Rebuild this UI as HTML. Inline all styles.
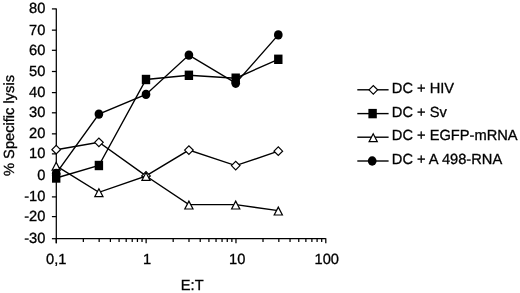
<!DOCTYPE html><html><head><meta charset="utf-8"><title>chart</title><style>html,body{margin:0;padding:0;background:#fff}svg{display:block}</style></head><body><svg width="520" height="293" viewBox="0 0 520 293">
<rect width="520" height="293" fill="#fff"/>
<g stroke="#000" stroke-width="1.25" fill="none">
<path d="M56.3 8.4V243.3"/>
<path d="M55.8 238.7H325.8"/>
<path d="M51.9 8.90H56.3"/>
<path d="M51.9 30.15H56.3"/>
<path d="M51.9 50.30H56.3"/>
<path d="M51.9 71.50H56.3"/>
<path d="M51.9 92.60H56.3"/>
<path d="M51.9 112.80H56.3"/>
<path d="M51.9 133.85H56.3"/>
<path d="M51.9 153.85H56.3"/>
<path d="M51.9 175.30H56.3"/>
<path d="M51.9 196.90H56.3"/>
<path d="M51.9 216.60H56.3"/>
<path d="M51.9 238.70H56.3"/>
<path d="M56.30 238.7v4.6"/>
<path d="M83.34 238.7v3.3"/>
<path d="M99.16 238.7v3.3"/>
<path d="M110.39 238.7v3.3"/>
<path d="M119.09 238.7v3.3"/>
<path d="M126.20 238.7v3.3"/>
<path d="M132.22 238.7v3.3"/>
<path d="M137.43 238.7v3.3"/>
<path d="M142.02 238.7v3.3"/>
<path d="M146.13 238.7v4.6"/>
<path d="M173.18 238.7v3.3"/>
<path d="M188.99 238.7v3.3"/>
<path d="M200.22 238.7v3.3"/>
<path d="M208.92 238.7v3.3"/>
<path d="M216.04 238.7v3.3"/>
<path d="M222.05 238.7v3.3"/>
<path d="M227.26 238.7v3.3"/>
<path d="M231.86 238.7v3.3"/>
<path d="M235.97 238.7v4.6"/>
<path d="M263.01 238.7v3.3"/>
<path d="M278.83 238.7v3.3"/>
<path d="M290.05 238.7v3.3"/>
<path d="M298.76 238.7v3.3"/>
<path d="M305.87 238.7v3.3"/>
<path d="M311.88 238.7v3.3"/>
<path d="M317.09 238.7v3.3"/>
<path d="M321.69 238.7v3.3"/>
<path d="M325.8 238.2v5.1"/>
</g>
<g font-family="'Liberation Sans', Arial, sans-serif" font-size="14.67" text-rendering="geometricPrecision" fill="#000" stroke="#000" stroke-width="0.3">
<text x="45.4" y="13.40" text-anchor="end">80</text>
<text x="45.4" y="34.65" text-anchor="end">70</text>
<text x="45.4" y="54.80" text-anchor="end">60</text>
<text x="45.4" y="76.00" text-anchor="end">50</text>
<text x="45.4" y="97.10" text-anchor="end">40</text>
<text x="45.4" y="117.30" text-anchor="end">30</text>
<text x="45.4" y="138.35" text-anchor="end">20</text>
<text x="45.4" y="158.35" text-anchor="end">10</text>
<text x="45.4" y="179.80" text-anchor="end">0</text>
<text x="45.4" y="201.40" text-anchor="end">-10</text>
<text x="45.4" y="221.10" text-anchor="end">-20</text>
<text x="45.4" y="243.20" text-anchor="end">-30</text>
<text x="56.3" y="264.0" text-anchor="middle">0,1</text>
<text x="147.1" y="264.0" text-anchor="middle">1</text>
<text x="237.2" y="264.0" text-anchor="middle">10</text>
<text x="326.8" y="264.0" text-anchor="middle">100</text>
<text x="192.2" y="290" text-anchor="middle">E:T</text>
<text transform="translate(14.1 125.5) rotate(-90)" text-anchor="middle">% Specific lysis</text>
<text x="391.8" y="93.0">DC + HIV</text>
<text x="391.8" y="116.8">DC + Sv</text>
<text x="391.8" y="140.4">DC + EGFP-mRNA</text>
<text x="391.8" y="164.2">DC + A 498-RNA</text>
</g>
<polyline points="56.20,149.70 98.90,142.30 146.00,175.90 188.90,150.10 235.70,165.60 278.30,151.20" fill="none" stroke="#000" stroke-width="1.4"/>
<path d="M51.90 149.70L56.20 145.40L60.50 149.70L56.20 154.00Z" fill="#fff" stroke="#000" stroke-width="1.2"/>
<path d="M94.60 142.30L98.90 138.00L103.20 142.30L98.90 146.60Z" fill="#fff" stroke="#000" stroke-width="1.2"/>
<path d="M141.70 175.90L146.00 171.60L150.30 175.90L146.00 180.20Z" fill="#fff" stroke="#000" stroke-width="1.2"/>
<path d="M184.60 150.10L188.90 145.80L193.20 150.10L188.90 154.40Z" fill="#fff" stroke="#000" stroke-width="1.2"/>
<path d="M231.40 165.60L235.70 161.30L240.00 165.60L235.70 169.90Z" fill="#fff" stroke="#000" stroke-width="1.2"/>
<path d="M274.00 151.20L278.30 146.90L282.60 151.20L278.30 155.50Z" fill="#fff" stroke="#000" stroke-width="1.2"/>
<polyline points="56.20,178.00 98.90,165.50 146.00,79.50 188.90,75.30 235.70,78.20 278.30,59.30" fill="none" stroke="#000" stroke-width="1.4"/>
<rect x="52.00" y="173.30" width="8.4" height="9.4" fill="#000"/>
<rect x="94.70" y="160.80" width="8.4" height="9.4" fill="#000"/>
<rect x="141.80" y="74.80" width="8.4" height="9.4" fill="#000"/>
<rect x="184.70" y="70.60" width="8.4" height="9.4" fill="#000"/>
<rect x="231.50" y="73.50" width="8.4" height="9.4" fill="#000"/>
<rect x="274.10" y="54.60" width="8.4" height="9.4" fill="#000"/>
<polyline points="56.20,165.80 98.90,192.30 146.00,176.00 188.90,204.60 235.70,204.60 278.30,210.60" fill="none" stroke="#000" stroke-width="1.4"/>
<path d="M56.20 162.30L60.30 170.20H52.10Z" fill="#fff" stroke="#000" stroke-width="1.2" stroke-linejoin="miter"/>
<path d="M98.90 188.80L103.00 196.70H94.80Z" fill="#fff" stroke="#000" stroke-width="1.2" stroke-linejoin="miter"/>
<path d="M146.00 172.50L150.10 180.40H141.90Z" fill="#fff" stroke="#000" stroke-width="1.2" stroke-linejoin="miter"/>
<path d="M188.90 201.10L193.00 209.00H184.80Z" fill="#fff" stroke="#000" stroke-width="1.2" stroke-linejoin="miter"/>
<path d="M235.70 201.10L239.80 209.00H231.60Z" fill="#fff" stroke="#000" stroke-width="1.2" stroke-linejoin="miter"/>
<path d="M278.30 207.10L282.40 215.00H274.20Z" fill="#fff" stroke="#000" stroke-width="1.2" stroke-linejoin="miter"/>
<polyline points="56.20,173.40 98.90,114.10 146.00,94.40 188.90,55.10 235.70,83.20 278.30,34.90" fill="none" stroke="#000" stroke-width="1.4"/>
<ellipse cx="56.20" cy="173.40" rx="4.35" ry="4.7" fill="#000"/>
<ellipse cx="98.90" cy="114.10" rx="4.35" ry="4.7" fill="#000"/>
<ellipse cx="146.00" cy="94.40" rx="4.35" ry="4.7" fill="#000"/>
<ellipse cx="188.90" cy="55.10" rx="4.35" ry="4.7" fill="#000"/>
<ellipse cx="235.70" cy="83.20" rx="4.35" ry="4.7" fill="#000"/>
<ellipse cx="278.30" cy="34.90" rx="4.35" ry="4.7" fill="#000"/>
<path d="M357.3 89.8H388.6" stroke="#000" stroke-width="1.4"/>
<path d="M369.00 89.80L373.30 85.50L377.60 89.80L373.30 94.10Z" fill="#fff" stroke="#000" stroke-width="1.2"/>
<path d="M357.3 113.6H388.6" stroke="#000" stroke-width="1.4"/>
<rect x="368.40" y="108.90" width="8.4" height="9.4" fill="#000"/>
<path d="M357.3 137.2H388.6" stroke="#000" stroke-width="1.4"/>
<path d="M373.20 133.70L377.30 141.60H369.10Z" fill="#fff" stroke="#000" stroke-width="1.2" stroke-linejoin="miter"/>
<path d="M357.3 161.0H388.6" stroke="#000" stroke-width="1.4"/>
<ellipse cx="372.20" cy="161.00" rx="4.35" ry="4.7" fill="#000"/>
</svg></body></html>
